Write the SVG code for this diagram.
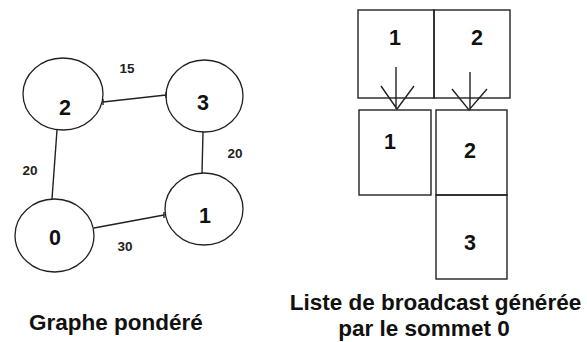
<svg xmlns="http://www.w3.org/2000/svg" width="587" height="342" viewBox="0 0 587 342">
<style>
.n{fill:none;stroke:#222;stroke-width:1.3}
.e{fill:none;stroke:#222;stroke-width:1.4}
.d{font-family:"Liberation Sans",Arial,sans-serif;font-weight:bold;font-size:21.5px;fill:#111;text-anchor:middle}
.w{font-family:"Liberation Sans",Arial,sans-serif;font-weight:bold;font-size:13.5px;fill:#222;text-anchor:middle}
.c{font-family:"Liberation Sans",Arial,sans-serif;font-weight:bold;font-size:22.5px;fill:#111;text-anchor:middle}
.b{fill:none;stroke:#222;stroke-width:1.4}
</style>
<rect width="587" height="342" fill="#fff"/>
<g id="node-2"><ellipse class="n" cx="63" cy="94" rx="40" ry="36"/><text class="d" x="65" y="115">2</text></g>
<g id="node-3"><ellipse class="n" cx="204.5" cy="96" rx="38.5" ry="36"/><text class="d" x="203" y="110">3</text></g>
<g id="node-1"><ellipse class="n" cx="204" cy="209" rx="39" ry="36"/><text class="d" x="205" y="223">1</text></g>
<g id="node-0"><ellipse class="n" cx="54.5" cy="235.5" rx="39.5" ry="36.5"/><text class="d" x="55" y="245">0</text></g>
<g id="weights">
<text class="w" x="127" y="73">15</text>
<text class="w" x="30" y="175">20</text>
<text class="w" x="235" y="158">20</text>
<text class="w" x="125" y="251" fill="#22224a">30</text>
</g>
<g id="list-top-1"><rect class="b" x="358" y="10" width="76" height="88"/><text class="d" x="395" y="45">1</text></g>
<g id="list-top-2"><rect class="b" x="434" y="10" width="76" height="88"/><text class="d" x="477" y="45">2</text></g>
<g id="list-1"><rect class="b" x="359" y="110" width="72" height="85"/><text class="d" x="390" y="149">1</text></g>
<g id="list-2"><rect class="b" x="436" y="110" width="71" height="85"/><text class="d" x="470" y="158">2</text></g>
<g id="list-3"><rect class="b" x="436" y="195" width="71" height="84"/><text class="d" x="470" y="250">3</text></g>
<g id="connectors">
<path class="e" d="M103 102 L166 95 M103 99 L103 105 M166 92 L166 98"/>
<path class="e" d="M57 130 L52 199"/>
<path class="e" d="M203 132 L202 173"/>
<path class="e" d="M94 228 L164 215 M164 212 L164 218"/>
<path class="e" d="M396 67 L396 109 M381 86 L397 109 L414 86"/>
<path class="e" d="M470 72 L470 110 M452 89 L469 110 L487 89"/>
</g>
<g id="captions">
<text class="c" x="116" y="330">Graphe pondéré</text>
<text class="c" x="435.5" y="310">Liste de broadcast générée</text>
<text class="c" x="424" y="336">par le sommet 0</text>
</g>
</svg>
